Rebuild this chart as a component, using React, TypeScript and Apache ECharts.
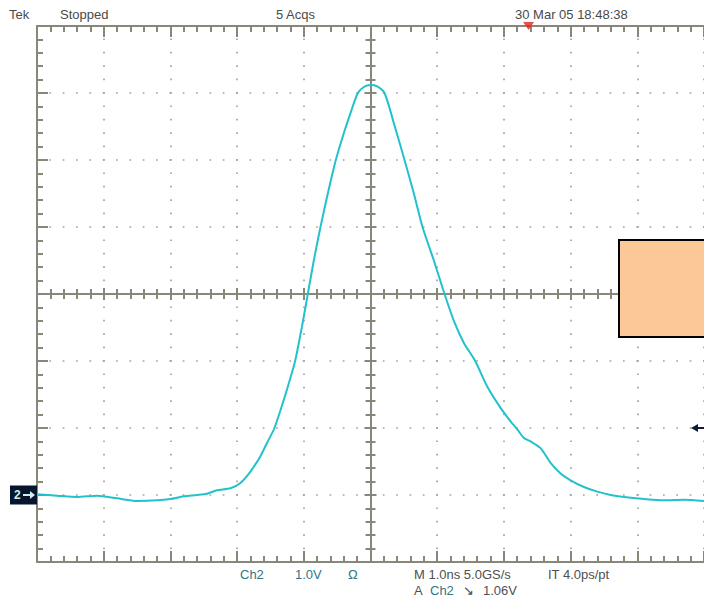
import React, { useEffect, useRef } from "react";
import * as echarts from "echarts";

// Waveform (Ch2): time in ns relative to trigger centre, amplitude in volts above ground
const timeNs = [
  -5.0, -4.7, -4.4, -4.1, -3.8, -3.5, -3.2, -3.0, -2.8, -2.6, -2.45, -2.3, -2.1, -1.95, -1.8, -1.65,
  -1.55, -1.44, -1.3, -1.2, -1.13, -1.03, -0.94, -0.85, -0.75, -0.64, -0.52, -0.4, -0.3, -0.19, -0.1,
  0.0, 0.1, 0.21, 0.35, 0.51, 0.65, 0.78, 0.95, 1.11, 1.25, 1.4, 1.57, 1.75, 1.95, 2.1, 2.2, 2.3,
  2.4, 2.55, 2.7, 2.85, 3.0, 3.2, 3.4, 3.6, 3.8, 4.1, 4.4, 4.7, 5.0,
];
const voltsCh2 = [
  0.01, -0.01, -0.03, -0.01, -0.05, -0.09, -0.08, -0.06, -0.02, 0.0, 0.02, 0.07, 0.1, 0.18, 0.35, 0.58,
  0.78, 1.0, 1.42, 1.75, 2.0, 2.5, 3.0, 3.5, 4.0, 4.5, 5.0, 5.4, 5.7, 6.0, 6.09,
  6.12, 6.1, 6.0, 5.55, 5.0, 4.5, 4.0, 3.5, 3.0, 2.6, 2.27, 2.0, 1.62, 1.3, 1.1, 0.98, 0.85,
  0.8, 0.7, 0.48, 0.32, 0.22, 0.12, 0.05, 0.0, -0.03, -0.06, -0.08, -0.07, -0.09,
];

const timeRangeNs = [-5, 5];
const voltRange = [-1, 7];
const divRange = [-4, 4];
const triggerPositionNs = [2.37];
const triggerLevelMarkV = 1.0;
const groundLevelV = 0;

const headerTexts = ["Tek", "Stopped", "5 Acqs", "30 Mar 05 18:48:38"];
const footerRow1 = ["Ch2", "1.0V", "Ω", "M 1.0ns 5.0GS/s", "IT 4.0ps/pt"];
const footerRow2 = ["A", "Ch2", "↘", "1.06V"];

export default function App() {
  const ref = useRef<HTMLDivElement>(null);

  useEffect(() => {
    document.body.style.margin = "0";
    const chart = echarts.init(ref.current!, null, { renderer: "svg" });

    const axisColor = "#88887a";
    const dotColor = "#a3a3a3";
    const font = '13px "Liberation Sans", Arial, sans-serif';

    const tickStyle = { color: axisColor, width: 2 };
    const base = (min: number, max: number) => ({
      type: "value",
      min,
      max,
      interval: 1,
      axisLabel: { show: false },
      splitLine: { show: false },
    });
    const borderAxis = (min: number, max: number, position: string) => ({
      ...base(min, max),
      position,
      axisLine: { show: true, onZero: false, lineStyle: { color: axisColor, width: 2 } },
      axisTick: { show: true, inside: true, length: 11, lineStyle: tickStyle },
      minorTick: { show: true, splitNumber: 5, length: 6, lineStyle: tickStyle },
    });
    const centerAxis = (min: number, max: number, position: string, zeroIdx: number) => ({
      ...base(min, max),
      position,
      axisLine: {
        show: true,
        onZero: true,
        onZeroAxisIndex: zeroIdx,
        lineStyle: { color: axisColor, width: 2 },
      },
      axisTick: { show: true, inside: true, length: 6, lineStyle: tickStyle },
      minorTick: { show: true, splitNumber: 5, length: 5, lineStyle: tickStyle },
    });

    const xMain: any = borderAxis(timeRangeNs[0], timeRangeNs[1], "bottom");
    xMain.splitLine = {
      show: true,
      lineStyle: { color: dotColor, width: 1.7, type: [1.7, 11.7], dashOffset: 0.85 },
    };
    const yMain: any = borderAxis(voltRange[0], voltRange[1], "left");
    yMain.splitLine = {
      show: true,
      lineStyle: { color: dotColor, width: 1.7, type: [1.7, 11.64], dashOffset: 0.85 },
    };

    const waveform = timeNs.map((t, i) => [t, voltsCh2[i]]);

    chart.setOption({
      animation: false,
      backgroundColor: "#ffffff",
      grid: { left: 37, top: 26, width: 667, height: 536, containLabel: false },
      xAxis: [
        xMain,
        borderAxis(timeRangeNs[0], timeRangeNs[1], "top"),
        centerAxis(timeRangeNs[0], timeRangeNs[1], "bottom", 1),
        centerAxis(timeRangeNs[0], timeRangeNs[1], "top", 1),
      ],
      yAxis: [
        yMain,
        centerAxis(divRange[0], divRange[1], "left", 0),
        centerAxis(divRange[0], divRange[1], "right", 0),
      ],
      series: [
        {
          type: "line",
          xAxisIndex: 0,
          yAxisIndex: 0,
          data: waveform,
          showSymbol: false,
          smooth: 0.25,
          lineStyle: { color: "#22c2cc", width: 2 },
          z: 5,
        },
        {
          type: "scatter",
          xAxisIndex: 0,
          yAxisIndex: 0,
          data: triggerPositionNs.map((t) => [t, voltRange[1]]),
          symbol: "triangle",
          symbolRotate: 180,
          symbolSize: [11, 8],
          itemStyle: { color: "#e32619" },
          clip: false,
          z: 6,
        },
      ],
    });

    const gnd = chart.convertToPixel({ xAxisIndex: 0, yAxisIndex: 0 }, [timeRangeNs[0], groundLevelV]) as number[];
    const trg = chart.convertToPixel({ xAxisIndex: 0, yAxisIndex: 0 }, [timeRangeNs[1], triggerLevelMarkV]) as number[];

    const textEl = (text: string, x: number, y: number, fill: string) => ({
      type: "text",
      x,
      y,
      style: { text, fill, font, verticalAlign: "middle" },
      z: 20,
    });
    const headerX = [9, 60, 276, 515];
    const row1X = [240, 295, 348, 414, 548];
    const row1Fill = ["#2d7787", "#2d7787", "#2d7787", "#505050", "#505050"];
    const row2X = [414, 430, 463, 483];
    const row2Fill = ["#505050", "#2d7787", "#505050", "#505050"];

    const graphics: any[] = [
      ...headerTexts.map((t, i) => textEl(t, headerX[i], 14, "#4a4a4a")),
      ...footerRow1.map((t, i) => textEl(t, row1X[i], 574, row1Fill[i])),
      ...footerRow2.map((t, i) => textEl(t, row2X[i], 590, row2Fill[i])),
      // ground reference marker
      {
        type: "rect",
        shape: { x: 10, y: gnd[1] - 9.5, width: gnd[0] - 10, height: 19 },
        style: { fill: "#07162c" },
        z: 20,
      },
      {
        type: "text",
        x: 14,
        y: gnd[1],
        style: { text: "2", fill: "#cfeff2", font: 'bold 12px "Liberation Sans", Arial', verticalAlign: "middle" },
        z: 21,
      },
      {
        type: "polygon",
        shape: {
          points: [
            [23, gnd[1] - 1],
            [30, gnd[1] - 1],
            [30, gnd[1] - 4],
            [35, gnd[1]],
            [30, gnd[1] + 4],
            [30, gnd[1] + 1],
            [23, gnd[1] + 1],
          ],
        },
        style: { fill: "#cfeff2" },
        z: 21,
      },
      // trigger level marker
      {
        type: "polygon",
        shape: { points: [[691, trg[1]], [698, trg[1] - 4], [698, trg[1] + 4]] },
        style: { fill: "#0e1c34" },
        z: 20,
      },
      {
        type: "line",
        shape: { x1: 696, y1: trg[1], x2: 704, y2: trg[1] },
        style: { stroke: "#0e1c34", lineWidth: 2 },
        z: 20,
      },
      // redaction box
      {
        type: "rect",
        shape: { x: 619, y: 240, width: 100, height: 97 },
        style: { fill: "#fdc898", stroke: "#000000", lineWidth: 2 },
        z: 30,
      },
    ];

    chart.setOption({ graphic: graphics });

    return () => chart.dispose();
  }, []);

  return (
    <div
      ref={ref}
      style={{ position: "fixed", left: 0, top: 0, width: 704, height: 598, background: "#fff" }}
    />
  );
}
